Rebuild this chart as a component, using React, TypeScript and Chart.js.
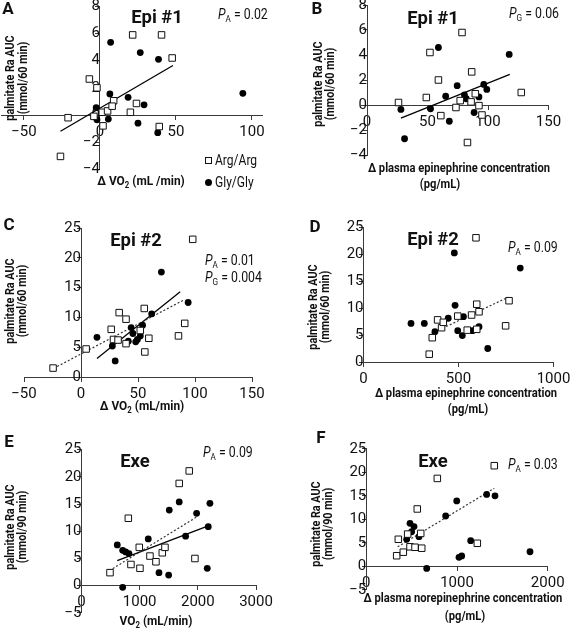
import React, { useEffect, useRef } from 'react';
import { Chart, registerables } from 'chart.js';
Chart.register(...registerables);

const W = 572;
const H = 631;

// ---------- Panel A: Epi #1, Δ VO2 ----------
const aArgX = [-7, -2, -21, -4, 1.5, 5, 9, 8, 20, 24, 2, 39, -26, 21.5, 40.5, 47.5];
const aArgY = [2.65, 2.0, -0.2, -0.1, 0.2, 0.3, 1.05, 0.65, 0.2, 0.85, -0.8, -0.85, -3.05, 5.9, 5.9, 4.2];
const aGlyX = [-2.5, 6.5, 18.5, 29, -2, 5.5, 25, 38, 38.5, 7, 26.5, 94];
const aGlyY = [0.55, 1.55, 1.3, 0.75, -0.35, -0.3, -0.6, -1.3, 4.1, 5.35, 4.6, 1.6];
const aFitX = [-26, 48];
const aFitY = [-1.2, 3.65];
const aXTicks = [-50, 0, 50, 100];
const aYTicks = [-4, -2, 0, 2, 4, 6, 8];

// ---------- Panel B: Epi #1, Δ epinephrine ----------
const bArgX = [26, 49, 52, 59, 78.5, 86.5, 61, 73.5, 77, 86, 89.5, 92.5, 95, 83, 127.5];
const bArgY = [0.2, 0.6, 4.2, 2.0, 5.8, 2.65, -0.85, -0.2, 0.35, 0.25, 0.9, -0.05, -0.8, -3.0, 1.0];
const bGlyX = [28, 31, 52.5, 59, 65, 68, 74.5, 80.5, 82, 88.5, 92.5, 96.5, 99, 117.5];
const bGlyY = [-0.35, -2.7, -0.3, 4.6, 0.7, -1.3, 1.55, 0.8, 0.5, -0.6, 0.65, 1.65, 1.25, 4.05];
const bFitX = [28, 118];
const bFitY = [-1.05, 2.45];
const bXTicks = [0, 50, 100, 150];
const bYTicks = [-4, -2, 0, 2, 4, 6, 8];

// ---------- Panel C: Epi #2, Δ VO2 ----------
const cArgX = [-24.5, 4.5, 26.5, 28.5, 32.5, 33.5, 39.5, 39.5, 52, 55.5, 56, 59.5, 85.5, 91, 98];
const cArgY = [1.5, 4.7, 8.0, 6.3, 6.2, 10.8, 9.7, 5.6, 7.8, 11.5, 4.2, 6.5, 6.9, 9.0, 23.1];
const cGlyX = [14, 27.5, 30, 41.5, 44, 45.5, 48, 49.5, 52, 54, 62, 94, 70.5];
const cGlyY = [6.65, 5.2, 2.7, 6.0, 8.3, 7.3, 5.9, 6.3, 6.9, 8.7, 10.6, 12.5, 17.6];
const cArgFitX = [-24, 91];
const cArgFitY = [1.45, 13.0];
const cGlyFitX = [14, 87];
const cGlyFitY = [3.1, 14.3];
const cXTicks = [-50, 0, 50, 100, 150];
const cYTicks = [0, 5, 10, 15, 20, 25];

// ---------- Panel D: Epi #2, Δ epinephrine ----------
const dArgX = [346, 362, 390, 411, 420, 496, 546, 569, 596, 608, 596, 748, 766, 592];
const dArgY = [1.45, 4.5, 7.8, 6.35, 7.35, 8.5, 5.9, 8.7, 10.7, 9.3, 6.05, 6.7, 11.35, 23.0];
const dGlyX = [250, 320, 376, 446, 482, 526, 496, 520, 573, 608, 654, 825, 478];
const dGlyY = [7.15, 7.15, 5.6, 8.1, 10.5, 8.4, 5.8, 4.9, 5.8, 6.55, 2.5, 17.4, 20.2];
const dFitX = [359, 762];
const dFitY = [5.3, 12.0];
const dXTicks = [0, 500, 1000];
const dYTicks = [0, 5, 10, 15, 20, 25];

// ---------- Panel E: Exe, VO2 ----------
const eArgX = [490, 805, 850, 993, 1005, 1177, 1280, 1389, 1435, 1680, 1852, 1950];
const eArgY = [2.4, 12.4, 3.9, 7.05, 3.2, 5.45, 4.4, 6.05, 7.05, 18.8, 21.1, 5.0];
const eGlyX = [615, 708, 759, 816, 708, 1148, 1332, 1498, 1509, 1680, 1790, 1979, 2179, 2208, 2162];
const eGlyY = [7.5, 6.5, 6.2, 5.9, -0.3, 8.6, 2.4, 1.95, 13.9, 15.4, 9.1, 13.3, 10.85, 15.15, 3.2];
const eArgFitX = [478, 1990];
const eArgFitY = [2.75, 12.7];
const eGlyFitX = [615, 2179];
const eGlyFitY = [4.6, 11.0];
const eXTicks = [0, 1000, 2000, 3000];
const eYTicks = [-5, 0, 5, 10, 15, 20, 25];

// ---------- Panel F: Exe, Δ norepinephrine ----------
const fArgX = [335, 353, 408, 456, 482, 537, 562, 600, 611, 783, 1224, 1411];
const fArgY = [2.25, 5.75, 3.0, 6.85, 4.15, 4.05, 12.2, 7.0, 3.85, 18.7, 4.9, 21.4];
const fGlyX = [445, 482, 500, 526, 581, 666, 875, 997, 1022, 1052, 1151, 1327, 1419, 1805];
const fGlyY = [5.75, 9.15, 7.35, 8.45, 6.3, -0.45, 10.7, 13.9, 1.9, 2.2, 5.45, 15.3, 15.0, 3.1];
const fFitX = [346, 1411];
const fFitY = [4.15, 16.6];
const fXTicks = [0, 1000, 2000];
const fYTicks = [-5, 0, 5, 10, 15, 20, 25];

type Fit = { xs: number[]; ys: number[]; dashed: boolean };
type PanelDef = {
  argX: number[]; argY: number[]; glyX: number[]; glyY: number[];
  fits: Fit[];
  xMin: number; xMax: number; yMin: number; yMax: number;
  xTicks: number[]; yTicks: number[];
  area: [number, number, number, number];
};

const panels: PanelDef[] = [
  { argX: aArgX, argY: aArgY, glyX: aGlyX, glyY: aGlyY, fits: [{ xs: aFitX, ys: aFitY, dashed: false }],
    xMin: -65, xMax: 107, yMin: -4, yMax: 8, xTicks: aXTicks, yTicks: aYTicks, area: [1.2, 6.4, 262.6, 169.3] },
  { argX: bArgX, argY: bArgY, glyX: bGlyX, glyY: bGlyY, fits: [{ xs: bFitX, ys: bFitY, dashed: false }],
    xMin: -5, xMax: 150, yMin: -4, yMax: 8, xTicks: bXTicks, yTicks: bYTicks, area: [361, 5, 548.5, 155] },
  { argX: cArgX, argY: cArgY, glyX: cGlyX, glyY: cGlyY,
    fits: [{ xs: cArgFitX, ys: cArgFitY, dashed: true }, { xs: cGlyFitX, ys: cGlyFitY, dashed: false }],
    xMin: -50, xMax: 150, yMin: 0, yMax: 25, xTicks: cXTicks, yTicks: cYTicks, area: [24, 228, 252, 377] },
  { argX: dArgX, argY: dArgY, glyX: dGlyX, glyY: dGlyY, fits: [{ xs: dFitX, ys: dFitY, dashed: true }],
    xMin: 0, xMax: 1000, yMin: 0, yMax: 25, xTicks: dXTicks, yTicks: dYTicks, area: [363.5, 227, 553.5, 362] },
  { argX: eArgX, argY: eArgY, glyX: eGlyX, glyY: eGlyY,
    fits: [{ xs: eArgFitX, ys: eArgFitY, dashed: true }, { xs: eGlyFitX, ys: eGlyFitY, dashed: false }],
    xMin: 0, xMax: 3000, yMin: -5, yMax: 25, xTicks: eXTicks, yTicks: eYTicks, area: [81.5, 449.7, 256, 612.9] },
  { argX: fArgX, argY: fArgY, glyX: fGlyX, glyY: fGlyY, fits: [{ xs: fFitX, ys: fFitY, dashed: true }],
    xMin: 0, xMax: 2000, yMin: -5, yMax: 25, xTicks: fXTicks, yTicks: fYTicks, area: [366.3, 448.8, 547.7, 589.8] },
];

const FONT = 'Roboto, "Liberation Sans", sans-serif';
const AXIS = '#3a3a3a';

function buildChart(canvas: HTMLCanvasElement, p: PanelDef) {
  const pts = (xs: number[], ys: number[]) => xs.map((x, i) => ({ x, y: ys[i] }));
  const fmt = (v: any) => (Number(v) < 0 ? '\u2212' + Math.abs(Number(v)) : String(v));
  const flat = (s: any) => {
    if (s.isHorizontal()) s.height = 0; else s.width = 0;
    s.paddingLeft = 0; s.paddingRight = 0; s.paddingTop = 0; s.paddingBottom = 0;
  };
  const tickFont = { family: 'Roboto', size: 15 };
  const datasets: any[] = [
    { label: 'Arg/Arg', data: pts(p.argX, p.argY), pointStyle: 'rect', pointRadius: 4.6, pointHoverRadius: 4.6,
      backgroundColor: '#fff', borderColor: '#111', borderWidth: 1, showLine: false },
    { label: 'Gly/Gly', data: pts(p.glyX, p.glyY), pointStyle: 'circle', pointRadius: 3.4, pointHoverRadius: 3.4,
      backgroundColor: '#000', borderColor: '#000', borderWidth: 0, showLine: false },
    ...p.fits.map((f) => ({
      label: 'fit', data: pts(f.xs, f.ys), showLine: true, pointRadius: 0, fill: false,
      borderColor: f.dashed ? '#333' : '#000', borderWidth: f.dashed ? 1.2 : 1.3,
      borderDash: f.dashed ? [2, 2] : [],
    })),
  ];
  return new Chart(canvas, {
    type: 'scatter',
    data: { datasets },
    options: {
      responsive: false,
      animation: false,
      devicePixelRatio: 1,
      layout: {
        autoPadding: false,
        padding: { left: p.area[0], top: p.area[1], right: W - p.area[2], bottom: H - p.area[3] },
      },
      plugins: { legend: { display: false }, tooltip: { enabled: false }, title: { display: false } },
      scales: {
        x: {
          type: 'linear', min: p.xMin, max: p.xMax, bounds: 'data', position: { y: 0 } as any,
          afterFit: flat,
          afterBuildTicks: (s: any) => { s.ticks = p.xTicks.map((v) => ({ value: v })); },
          ticks: { callback: fmt, font: tickFont, color: '#111', padding: 4, maxRotation: 0, autoSkip: false },
          grid: { drawOnChartArea: false, drawTicks: true, tickLength: 4, color: AXIS, lineWidth: 1 },
          border: { display: true, color: AXIS, width: 1 },
        },
        y: {
          type: 'linear', min: p.yMin, max: p.yMax, bounds: 'data', position: { x: 0 } as any,
          afterFit: flat,
          afterBuildTicks: (s: any) => { s.ticks = p.yTicks.map((v) => ({ value: v })); },
          ticks: { callback: fmt, font: tickFont, color: '#111', padding: 9, autoSkip: false },
          grid: { drawOnChartArea: false, drawTicks: true, tickLength: 4, color: AXIS, lineWidth: 1 },
          border: { display: true, color: AXIS, width: 1 },
        },
      },
    } as any,
  });
}

function PanelChart({ def }: { def: PanelDef }) {
  const ref = useRef<HTMLCanvasElement>(null);
  useEffect(() => {
    const chart = buildChart(ref.current as HTMLCanvasElement, def);
    return () => chart.destroy();
  }, [def]);
  return (
    <canvas ref={ref} width={W} height={H}
      style={{ position: 'absolute', left: 0, top: 0, width: W, height: H }} />
  );
}

type TxtProps = { x: number; y: number; size: number; bold?: boolean; rot?: boolean; left?: boolean; sx?: number; children: any };
function Txt({ x, y, size, bold, rot, left, sx = 0.9, children }: TxtProps) {
  return (
    <div style={{
      position: 'absolute', left: x, top: y,
      transform: `translate(${left ? '0' : '-50%'},-50%)${rot ? ' rotate(-90deg)' : ''} scaleX(${sx})`,
      transformOrigin: left ? 'left center' : 'center center',
      fontFamily: FONT, fontSize: size, fontWeight: bold ? 700 : 400,
      whiteSpace: 'nowrap', lineHeight: 1, color: '#111',
    }}>{children}</div>
  );
}

const Sub = ({ children }: { children: any }) => (
  <span style={{ fontSize: '0.66em', position: 'relative', top: '0.3em' }}>{children}</span>
);

const P = ({ s, v }: { s: string; v: string }) => (<><i>P</i><Sub>{s}</Sub>{' = ' + v}</>);

const yTitle60 = ['palmitate Ra AUC', '(mmol/60 min)'];
const yTitle90 = ['palmitate Ra AUC', '(mmol/90 min)'];
const epiTitle = ['\u0394 plasma epinephrine concentration', '(pg/mL)'];
const norepiTitle = ['\u0394 plasma norepinephrine concentration', '(pg/mL)'];

function YTitle({ x1, x2, y, lines }: { x1: number; x2: number; y: number; lines: string[] }) {
  return (
    <>
      <Txt x={x1} y={y} size={12} bold rot>{lines[0]}</Txt>
      <Txt x={x2} y={y} size={12} bold rot>{lines[1]}</Txt>
    </>
  );
}

export default function App() {
  return (
    <div style={{ position: 'absolute', left: 0, top: 0, width: W, height: H, background: '#fff', overflow: 'hidden' }}>
      {panels.map((p, i) => <PanelChart key={i} def={p} />)}

      {/* Panel letters */}
      <Txt x={8} y={8} size={17} bold sx={1}>A</Txt>
      <Txt x={317} y={8} size={17} bold sx={1}>B</Txt>
      <Txt x={9} y={224} size={17} bold sx={1}>C</Txt>
      <Txt x={315} y={226} size={17} bold sx={1}>D</Txt>
      <Txt x={9} y={441} size={17} bold sx={1}>E</Txt>
      <Txt x={321} y={437} size={17} bold sx={1}>F</Txt>

      {/* Titles */}
      <Txt x={157} y={16} size={19} bold sx={0.97}>Epi #1</Txt>
      <Txt x={433} y={17} size={19} bold sx={0.97}>Epi #1</Txt>
      <Txt x={136} y={239} size={19} bold sx={0.97}>Epi #2</Txt>
      <Txt x={433} y={238} size={19} bold sx={0.97}>Epi #2</Txt>
      <Txt x={135} y={460} size={19} bold sx={0.97}>Exe</Txt>
      <Txt x={433} y={460} size={19} bold sx={0.97}>Exe</Txt>

      {/* P values */}
      <Txt x={218} y={14} size={14} left sx={0.88}><P s="A" v="0.02" /></Txt>
      <Txt x={509} y={13} size={14} left sx={0.88}><P s="G" v="0.06" /></Txt>
      <Txt x={205} y={260} size={14} left sx={0.88}><P s="A" v="0.01" /></Txt>
      <Txt x={205} y={277} size={14} left sx={0.88}><P s="G" v="0.004" /></Txt>
      <Txt x={508} y={247} size={14} left sx={0.88}><P s="A" v="0.09" /></Txt>
      <Txt x={203} y={452} size={14} left sx={0.88}><P s="A" v="0.09" /></Txt>
      <Txt x={508} y={464} size={14} left sx={0.88}><P s="A" v="0.03" /></Txt>

      {/* Y axis titles */}
      <YTitle x1={10} x2={23} y={78} lines={yTitle60} />
      <YTitle x1={318} x2={330} y={84} lines={yTitle60} />
      <YTitle x1={10} x2={22} y={301} lines={yTitle60} />
      <YTitle x1={313} x2={325} y={307} lines={yTitle60} />
      <YTitle x1={10} x2={22} y={527} lines={yTitle90} />
      <YTitle x1={316} x2={328} y={524} lines={yTitle90} />

      {/* X axis titles */}
      <Txt x={141} y={181} size={13.5} bold sx={0.88}>{'\u0394 VO'}<Sub>2</Sub>{' (mL /min)'}</Txt>
      <Txt x={459} y={167} size={13} bold sx={0.86}>{epiTitle[0]}</Txt>
      <Txt x={440} y={183} size={13} bold sx={0.86}>{epiTitle[1]}</Txt>
      <Txt x={142} y={406} size={13.5} bold sx={0.88}>{'\u0394 VO'}<Sub>2</Sub>{' (mL/min)'}</Txt>
      <Txt x={466} y={392} size={13} bold sx={0.86}>{epiTitle[0]}</Txt>
      <Txt x={468} y={408} size={13} bold sx={0.86}>{epiTitle[1]}</Txt>
      <Txt x={156} y={621} size={13.5} bold sx={0.88}>{'VO'}<Sub>2</Sub>{' (mL/min)'}</Txt>
      <Txt x={463} y={597} size={13} bold sx={0.86}>{norepiTitle[0]}</Txt>
      <Txt x={465} y={615} size={13} bold sx={0.86}>{norepiTitle[1]}</Txt>

      {/* Legend (panel A) */}
      <div style={{ position: 'absolute', left: 204.5, top: 156.5, width: 7, height: 7, boxSizing: 'border-box', border: '1px solid #111', background: '#fff' }} />
      <Txt x={215} y={160} size={14} left sx={0.86}>Arg/Arg</Txt>
      <div style={{ position: 'absolute', left: 204.5, top: 178.5, width: 7, height: 7, borderRadius: '50%', background: '#000' }} />
      <Txt x={215} y={182} size={14} left sx={0.86}>Gly/Gly</Txt>
    </div>
  );
}
